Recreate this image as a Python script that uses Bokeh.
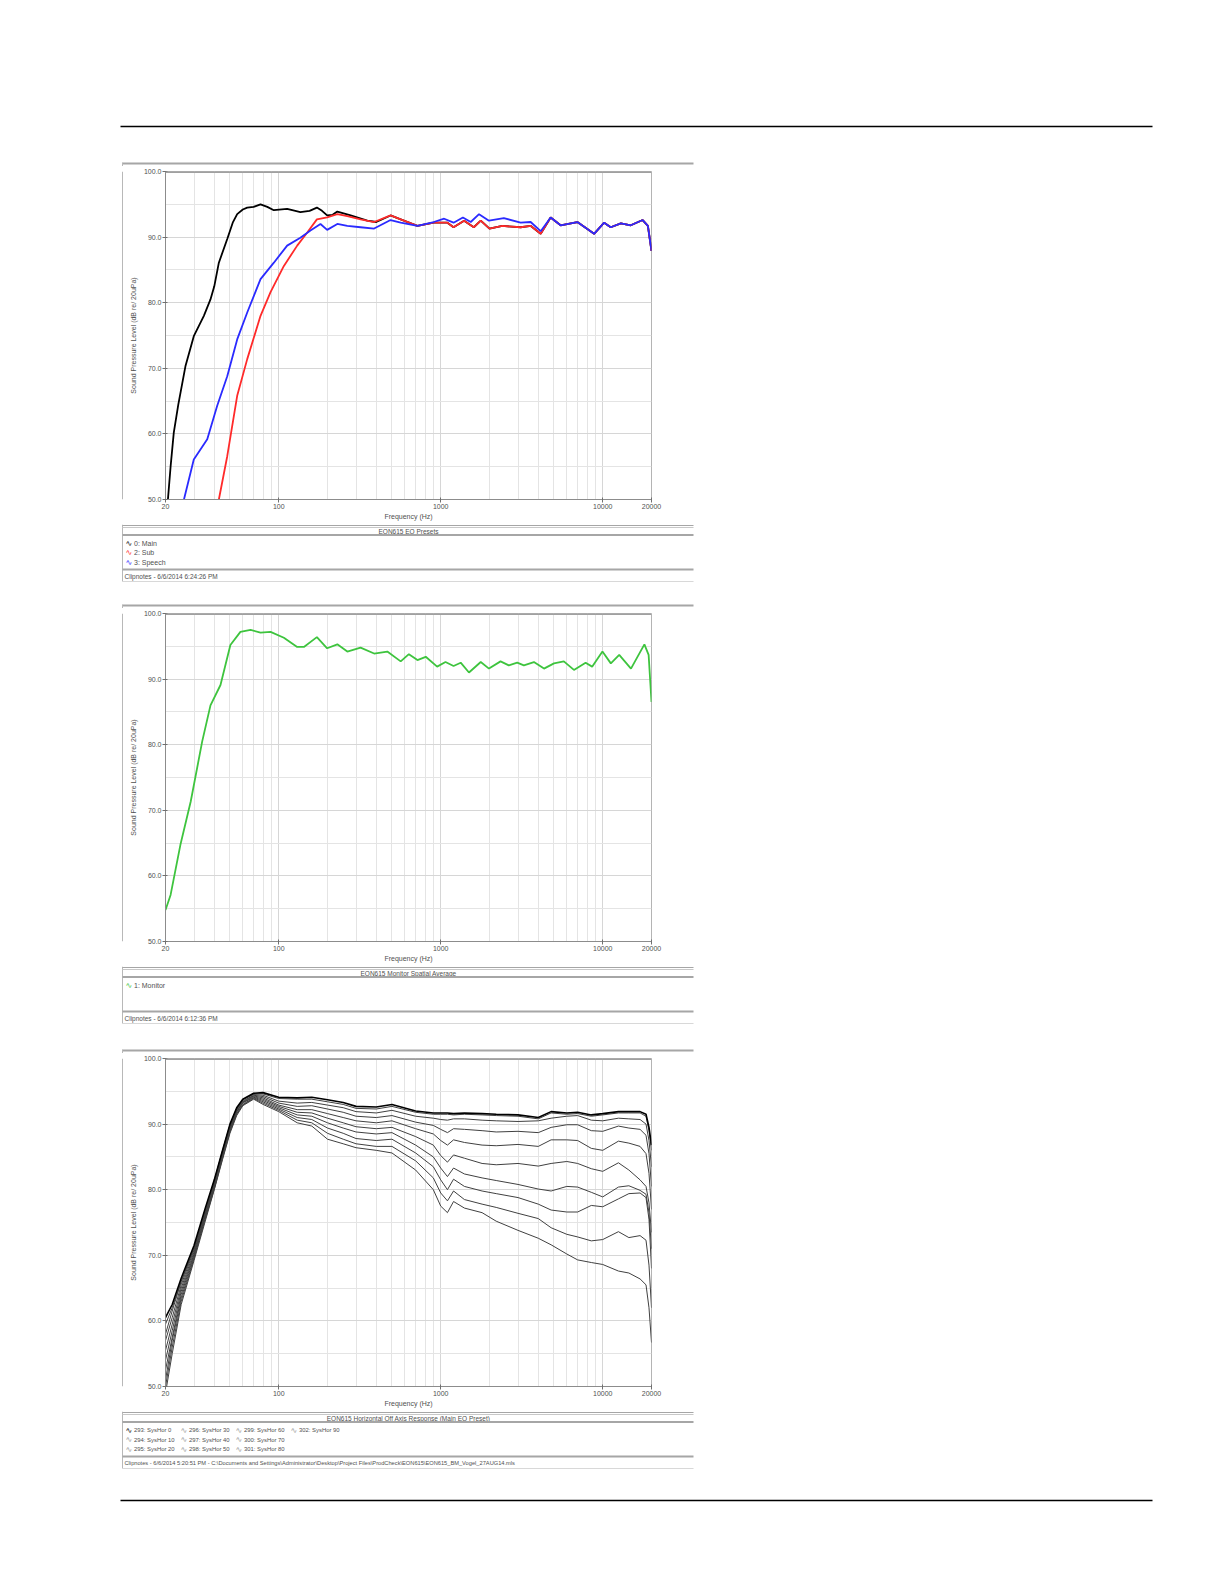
from bokeh.plotting import figure
from bokeh.models import Range1d, FixedTicker, PrintfTickFormatter, Span
from bokeh.layouts import column, row
from bokeh.core.properties import value
from bokeh.embed import file_html
from bokeh.resources import INLINE

# ---------------- data ----------------
X_TICKS = [20, 100, 1000, 10000, 20000]
X_TICK_LABELS = ["20", "100", "1000", "10000", "20000"]
X_MINOR = [30, 40, 50, 60, 70, 80, 90, 200, 300, 400, 500, 600, 700, 800, 900,
           2000, 3000, 4000, 5000, 6000, 7000, 8000, 9000]
Y_TICKS = [50, 60, 70, 80, 90, 100]
Y_MINOR = [55, 65, 75, 85, 95]

# Panel 1 : EQ presets
MAIN_F = [20.7, 21.5, 22.5, 24.0, 26.6, 29.9, 34.5, 37.9, 40, 42.7, 48.1, 52, 55.4, 60, 63.9, 70, 77.2, 85,
          93.3, 112.7, 136, 155, 172, 185, 199, 215, 230, 278, 352, 400, 490, 566, 718, 906, 1100, 1200,
          1394, 1600, 1766, 2000, 2400, 3112, 3600, 4140, 4770, 5494, 6972, 8846, 10200, 11200, 12940,
          14900, 17640, 19000, 20000]
MAIN_DB = [50, 55, 60.2, 64.5, 70.4, 74.9, 78.0, 80.5, 82.5, 86.1, 89.7, 92.2, 93.5, 94.2, 94.5, 94.6, 95.0, 94.6,
           94.1, 94.3, 93.8, 94.0, 94.5, 94.0, 93.3, 93.4, 93.9, 93.3, 92.5, 92.3, 93.3, 92.7, 91.7, 92.2, 92.2, 91.5,
           92.5, 91.5, 92.5, 91.3, 91.7, 91.5, 91.7, 90.5, 93.0, 91.8, 92.3, 90.5, 92.2, 91.5, 92.1,
           91.8, 92.6, 91.7, 87.9]
SUB_F = [42.7, 48.1, 55.4, 63.9, 77.2, 89, 107.6, 130, 150, 172, 199, 230, 265, 320, 388, 490, 566, 718, 906,
         1100, 1200, 1394, 1600, 1766, 2000, 2400, 3112, 3600, 4140, 4770, 5494, 6972, 8846, 10200, 11200,
         12940, 14900, 17640, 19000, 20000]
SUB_DB = [50, 56.6, 65.8, 71.4, 78.0, 81.6, 85.6, 88.7, 90.7, 92.7, 93.0, 93.5, 93.2, 92.7, 92.3, 93.3, 92.7, 91.7, 92.2,
          92.2, 91.5, 92.5, 91.5, 92.5, 91.3, 91.7, 91.5, 91.7, 90.5, 93.0, 91.8, 92.3, 90.5, 92.2, 91.5,
          92.1, 91.8, 92.6, 91.7, 87.9]
SPEECH_F = [26, 29.9, 36.2, 41.7, 48.1, 55.4, 63.9, 77.2, 93.3, 112.7, 136, 157, 181, 199, 230, 265, 320, 388, 490,
            566, 718, 906, 1050, 1200, 1370, 1532, 1724, 1985, 2452, 3112, 3590, 4140, 4770, 5494, 6972, 8846,
            10200, 11200, 12940, 14900, 17640, 19000, 20000]
SPEECH_DB = [50, 56.1, 59.2, 64.3, 68.8, 74.4, 78.5, 83.6, 86.1, 88.7, 89.9, 91.0, 92.0, 91.1, 92.0, 91.7, 91.5, 91.3, 92.6,
             92.2, 91.7, 92.3, 92.8, 92.2, 93.0, 92.3, 93.5, 92.5, 92.9, 92.2, 92.3, 90.9, 93.0, 91.8, 92.3, 90.5,
             92.2, 91.5, 92.1, 91.8, 92.6, 91.7, 87.9]

# Panel 2 : monitor spatial average
MON_F = [20, 21.5, 24.7, 28.6, 33.7, 37.9, 43.7, 50.3, 58.0, 67.0, 77.2, 89, 107.6, 130, 143, 172, 199, 230, 265,
         320, 388, 468, 566, 636, 718, 808, 950, 1070, 1200, 1328, 1494, 1766, 1985, 2340, 2632, 2966, 3260,
         3760, 4340, 5000, 5754, 6640, 7840, 8600, 9960, 11220, 12640, 14940, 18080, 19200, 20000]
MON_DB = [54.8, 57.1, 64.7, 71.3, 80.5, 86.0, 89.1, 95.2, 97.2, 97.5, 97.1, 97.2, 96.3, 94.9, 94.9, 96.4, 94.7, 95.3, 94.2,
          94.8, 93.9, 94.2, 92.7, 93.8, 92.9, 93.4, 91.9, 92.6, 92.0, 92.5, 91.0, 92.6, 91.6, 92.7, 92.1, 92.5, 92.1,
          92.6, 91.6, 92.4, 92.7, 91.4, 92.5, 91.9, 94.2, 92.4, 93.7, 91.6, 95.3, 93.7, 86.5]

# Panel 3 : horizontal off-axis response
OFF_F = [20, 22, 25, 30, 35, 40, 45, 50, 55, 60,
         70, 80, 100, 130, 160, 200, 250, 300, 400, 500,
         700, 900, 1000, 1100, 1200, 1400, 1800, 2200, 3000, 4000,
         4800, 6000, 7000, 8500, 10000, 12500, 14500, 17000, 18500, 19300, 20000]
OFF_DB_0 = [60.5, 62.5, 66.5, 71.5, 77.0, 81.5, 86.0, 90.0, 92.5, 93.8,
            94.7, 94.8, 94.1, 94.0, 94.1, 93.7, 93.3, 92.7, 92.6, 93.0,
            92.0, 91.7, 91.7, 91.7, 91.6, 91.7, 91.6, 91.5, 91.4, 91.0,
            91.9, 91.7, 91.8, 91.4, 91.6, 91.9, 91.9, 91.9, 91.5, 89.5, 86.8]
OFF_DB_10 = [59.5, 62.0, 66.0, 71.0, 76.5, 81.2, 85.8, 89.8, 92.3, 93.7,
             94.6, 94.6, 93.9, 93.8, 93.8, 93.4, 93.0, 92.4, 92.3, 92.7,
             91.8, 91.5, 91.5, 91.5, 91.4, 91.5, 91.4, 91.3, 91.2, 90.8,
             91.7, 91.5, 91.6, 91.2, 91.4, 91.7, 91.7, 91.7, 91.2, 89.0, 86.0]
OFF_DB_20 = [58.0, 61.5, 66.0, 71.2, 76.8, 81.4, 86.0, 89.9, 92.4, 93.7,
             94.5, 94.4, 93.5, 93.2, 93.3, 92.9, 92.5, 91.9, 91.7, 92.1,
             91.2, 90.9, 90.7, 90.6, 90.8, 90.8, 90.6, 90.5, 90.4, 90.5,
             90.9, 91.2, 91.3, 90.6, 90.5, 90.9, 90.8, 90.7, 90.0, 87.5, 83.5]
OFF_DB_30 = [57.0, 60.5, 65.5, 70.8, 76.5, 81.0, 85.6, 89.6, 92.2, 93.5,
             94.4, 94.2, 93.2, 92.7, 92.8, 92.3, 91.8, 91.2, 91.0, 91.3,
             90.3, 89.8, 89.2, 88.7, 89.3, 89.2, 89.0, 88.8, 88.9, 88.7,
             89.5, 89.9, 89.9, 89.0, 88.9, 89.7, 89.4, 89.2, 88.3, 85.5, 80.5]
OFF_DB_40 = [55.5, 59.5, 65.0, 70.5, 76.2, 80.8, 85.5, 89.5, 92.0, 93.4,
             94.3, 94.0, 92.9, 92.2, 92.2, 91.6, 91.0, 90.5, 90.2, 90.5,
             89.3, 88.5, 87.5, 86.8, 87.6, 87.2, 86.8, 86.7, 86.9, 86.6,
             87.6, 87.6, 87.5, 86.3, 86.0, 87.4, 87.1, 86.6, 85.5, 82.5, 77.0]
OFF_DB_50 = [54.0, 58.5, 64.5, 70.2, 76.0, 80.6, 85.3, 89.3, 91.9, 93.3,
             94.2, 93.8, 92.7, 91.8, 91.7, 90.9, 90.2, 89.6, 89.3, 89.5,
             88.1, 86.8, 85.2, 84.2, 85.3, 84.8, 84.0, 83.8, 84.0, 83.6,
             84.0, 84.3, 84.0, 83.2, 82.8, 84.1, 83.0, 81.5, 80.5, 78.0, 73.5]
OFF_DB_60 = [52.5, 57.5, 64.0, 70.0, 75.8, 80.5, 85.2, 89.2, 91.8, 93.2,
             94.1, 93.6, 92.5, 91.4, 91.2, 90.2, 89.4, 88.8, 88.5, 88.7,
             86.8, 85.0, 83.3, 82.0, 83.3, 82.4, 81.8, 81.4, 80.8, 80.1,
             79.8, 80.5, 80.4, 79.6, 78.9, 80.4, 80.6, 79.9, 79.3, 76.5, 71.0]
OFF_DB_70 = [51.0, 57.0, 63.5, 69.7, 75.5, 80.3, 85.0, 89.0, 91.6, 93.0,
             94.0, 93.4, 92.3, 91.0, 90.7, 89.4, 88.6, 87.8, 87.5, 87.7,
             85.6, 83.5, 81.5, 80.0, 81.6, 80.5, 79.8, 79.4, 78.8, 77.8,
             76.9, 76.6, 76.6, 77.6, 77.4, 78.6, 79.4, 79.5, 78.8, 75.5, 68.0]
OFF_DB_80 = [50.0, 56.0, 63.0, 69.5, 75.3, 80.1, 84.8, 88.8, 91.5, 92.9,
             93.9, 93.2, 92.1, 90.6, 90.2, 88.6, 87.7, 87.0, 86.6, 86.6,
             84.4, 81.8, 79.5, 78.3, 79.8, 78.5, 77.8, 77.3, 76.4, 75.6,
             74.2, 73.2, 72.8, 72.2, 72.4, 73.6, 72.7, 73.0, 72.3, 68.5, 62.0]
OFF_DB_90 = [49.0, 55.0, 62.5, 69.2, 75.0, 80.0, 84.6, 88.6, 91.3, 92.8,
             93.8, 93.0, 91.9, 90.2, 89.7, 87.7, 87.0, 86.4, 86.0, 85.6,
             83.0, 80.0, 77.5, 76.5, 78.2, 77.2, 76.5, 75.2, 73.8, 72.6,
             71.6, 70.2, 69.3, 68.9, 68.6, 67.6, 67.3, 66.4, 65.5, 62.0, 56.7]

P1_TITLE = "EON615 EQ Presets"
P1_NAMES = ["0: Main", "2: Sub", "3: Speech"]
P1_FOOT = "Clipnotes - 6/6/2014 6:24:26 PM"
P2_TITLE = "EON615 Monitor Spatial Average"
P2_NAMES = ["1: Monitor"]
P2_FOOT = "Clipnotes - 6/6/2014 6:12:36 PM"
P3_TITLE = "EON615 Horizontal Off Axis Response (Main EQ Preset)"
P3_NAMES = ["293: SysHor 0", "294: SysHor 10", "295: SysHor 20", "296: SysHor 30", "297: SysHor 40",
            "298: SysHor 50", "299: SysHor 60", "300: SysHor 70", "301: SysHor 80", "302: SysHor 90"]
P3_FOOT = ("Clipnotes - 6/6/2014 5:20:51 PM - C:\\Documents and Settings\\Administrator\\Desktop\\Project Files"
           "\\ProdCheck\\EON615\\EON615_BM_Vogel_27AUG14.mls")
Y_LABEL = "Sound Pressure Level (dB re/ 20uPa)"
X_LABEL = "Frequency (Hz)"

# ---------------- layout (page pixels, origin top-left) ----------------
FONT = "Liberation Sans"
PAGE_W = 1220
FL, FR = 165, 651          # plot frame left / right
BOX_L, BOX_R = 122, 693    # outer panel box
CH_X0, CH_X1 = 123, 692    # chart figure horizontal extent
TXT = "#505050"
RULE = "#a6a6a6"
VLINE = "#b8b8b8"


def blank(x0, x1, y0, y1):
    p = figure(width=x1 - x0, height=y1 - y0, x_range=Range1d(x0, x1), y_range=Range1d(y1, y0),
               output_backend="svg", toolbar_location=None,
               min_border_left=0, min_border_right=0, min_border_top=0, min_border_bottom=0,
               x_axis_location=None, y_axis_location=None)
    p.grid.visible = False
    p.outline_line_color = None
    p.background_fill_color = "white"
    p.border_fill_color = "white"
    return p


def hrule(p, x0, x1, y, w, color):
    p.quad(left=[x0], right=[x1], top=[y - w / 2], bottom=[y + w / 2], fill_color=color, line_color=None)


def vrule(p, x, y0, y1, color=VLINE):
    p.quad(left=[x - 0.5], right=[x + 0.5], top=[y0], bottom=[y1], fill_color=color, line_color=None)


def text(p, x, y, s, size=7.0, color=TXT, align="left", font=FONT):
    p.text(x=[x], y=[y], text=[s], text_font=value(font), text_font_size=value(f"{size}px"),
           text_color=color, text_align=align, text_baseline="middle")


def chart(y0, y1, FT, FB):
    p = figure(width=CH_X1 - CH_X0, height=y1 - y0, x_axis_type="log",
               x_range=Range1d(20, 20000), y_range=Range1d(50, 100),
               output_backend="svg", toolbar_location=None,
               min_border_left=FL - CH_X0, min_border_right=CH_X1 - FR,
               min_border_top=FT - y0, min_border_bottom=y1 - FB)
    p.background_fill_color = "white"
    p.border_fill_color = "white"
    p.outline_line_color = "#b4b4b4"
    p.outline_line_width = 1
    p.add_layout(Span(location=100, dimension="width", line_color="#a0a0a0", line_width=3))

    p.xaxis.ticker = FixedTicker(ticks=X_TICKS, minor_ticks=X_MINOR)
    p.xaxis.major_label_overrides = {t: s for t, s in zip(X_TICKS, X_TICK_LABELS)}
    p.yaxis.ticker = FixedTicker(ticks=Y_TICKS, minor_ticks=Y_MINOR)
    p.yaxis.formatter = PrintfTickFormatter(format="%.1f")
    for ax in (p.xaxis, p.yaxis):
        ax.axis_line_color = "#8c8c8c"
        ax.major_tick_line_color = "#707070"
        ax.major_tick_out = 3
        ax.major_tick_in = 2
        ax.minor_tick_out = 0
        ax.minor_tick_in = 0
        ax.major_label_text_font = FONT
        ax.major_label_text_font_size = "7px"
        ax.major_label_text_color = TXT
        ax.axis_label_text_font = FONT
        ax.axis_label_text_font_size = "7px"
        ax.axis_label_text_font_style = "normal"
        ax.axis_label_text_color = TXT
    p.xaxis.axis_label = X_LABEL
    p.xaxis.major_label_standoff = 1
    p.xaxis.axis_label_standoff = 1
    p.yaxis.axis_label = Y_LABEL
    p.yaxis.major_label_standoff = 1
    p.yaxis.axis_label_standoff = 4

    p.xgrid.ticker = FixedTicker(ticks=X_TICKS, minor_ticks=X_MINOR)
    p.ygrid.ticker = FixedTicker(ticks=Y_TICKS, minor_ticks=Y_MINOR)
    for g in (p.xgrid, p.ygrid):
        g.grid_line_color = "#d6d6d6"
        g.grid_line_width = 1
        g.minor_grid_line_color = "#e4e4e4"
        g.minor_grid_line_width = 1
    return p


def chart_row(y0, y1, ch):
    left = blank(0, CH_X0, y0, y1)
    vrule(left, BOX_L, y0, y1)
    right = blank(CH_X1, PAGE_W, y0, y1)
    return row(left, ch, right, spacing=0)


def lower_band(p, FB, title, names, colors, foot, foot_size, leg_size=7.0, col_step=55, row_step=9.5):
    bot = FB + 82
    vrule(p, BOX_L, p.y_range.end, bot)
    hrule(p, BOX_L, BOX_R, FB + 26, 1, RULE)
    hrule(p, BOX_L, BOX_R, FB + 28, 1, "#c8c8c8")
    text(p, 408, FB + 31.5, title, size=6.5, align="center")
    hrule(p, BOX_L, BOX_R, FB + 35.5, 2, RULE)
    for i, (nm, col) in enumerate(zip(names, colors)):
        c, r = divmod(i, 3)
        x = 125 + col_step * c
        y = FB + 43.5 + row_step * r
        text(p, x, y, "\u223f", size=8, color=col, font="DejaVu Sans")
        text(p, x + 8.5, y, nm, size=leg_size)
    hrule(p, BOX_L, BOX_R, FB + 70, 2, RULE)
    text(p, 124, FB + 76.5, foot, size=foot_size)
    hrule(p, BOX_L, BOX_R, bot, 1, "#d8d8d8")


def box_top(p, FT):
    hrule(p, BOX_L, BOX_R, FT - 8, 2, RULE)
    vrule(p, BOX_L, FT - 9, p.y_range.start)


# geometry
P1_FT, P1_FB = 171, 499
P2_FT, P2_FB = 613, 941
P3_FT, P3_FB = 1058, 1386
R1 = (166, 524)
R2 = (608, 966)
R3 = (1053, 1411)

# ---------------- band A : header ----------------
bandA = blank(0, PAGE_W, 0, R1[0])
hrule(bandA, 120, 1152, 126, 1.4, "black")
box_top(bandA, P1_FT)

# ---------------- panel 1 ----------------
c1 = chart(R1[0], R1[1], P1_FT, P1_FB)
c1.line(MAIN_F, MAIN_DB, line_color="black", line_width=1.8)
c1.line(SUB_F, SUB_DB, line_color="#ff2a2a", line_width=1.8)
c1.line(SPEECH_F, SPEECH_DB, line_color="#2a2aff", line_width=1.8)

bandB = blank(0, PAGE_W, R1[1], R2[0])
lower_band(bandB, P1_FB, P1_TITLE, P1_NAMES, ["black", "#ff2a2a", "#2a2aff"], P1_FOOT, 6.5)
box_top(bandB, P2_FT)

# ---------------- panel 2 ----------------
c2 = chart(R2[0], R2[1], P2_FT, P2_FB)
c2.line(MON_F, MON_DB, line_color="#3ec43e", line_width=1.8)

bandC = blank(0, PAGE_W, R2[1], R3[0])
lower_band(bandC, P2_FB, P2_TITLE, P2_NAMES, ["#3ec43e"], P2_FOOT, 6.5)
box_top(bandC, P3_FT)

# ---------------- panel 3 ----------------
c3 = chart(R3[0], R3[1], P3_FT, P3_FB)
OFF_ALL = [OFF_DB_0, OFF_DB_10, OFF_DB_20, OFF_DB_30, OFF_DB_40,
           OFF_DB_50, OFF_DB_60, OFF_DB_70, OFF_DB_80, OFF_DB_90]
for k in range(len(OFF_ALL) - 1, -1, -1):
    if k == 0:
        c3.line(OFF_F, OFF_ALL[k], line_color="black", line_width=1.6)
    else:
        c3.line(OFF_F, OFF_ALL[k], line_color="#404040", line_width=1.0)

bandD = blank(0, PAGE_W, R3[1], 1580)
lower_band(bandD, P3_FB, P3_TITLE, P3_NAMES, ["black"] + ["#9a9a9a"] * 9, P3_FOOT, 5.7, leg_size=5.9)
hrule(bandD, 120, 1152, 1500, 1.4, "black")

layout = column(bandA, chart_row(R1[0], R1[1], c1), bandB,
                chart_row(R2[0], R2[1], c2), bandC,
                chart_row(R3[0], R3[1], c3), bandD, spacing=0)
open("out.html", "w").write(file_html(layout, INLINE))
